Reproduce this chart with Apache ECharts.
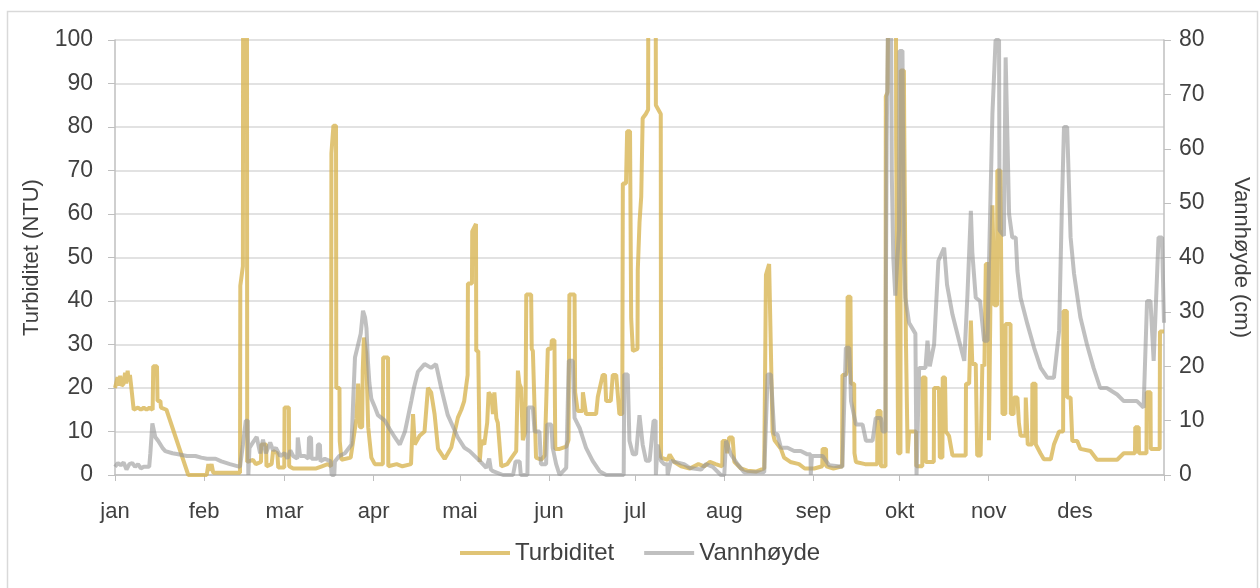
<!DOCTYPE html>
<html style="height: 100%">
<head>
<meta charset="utf-8">
<title>Turbiditet og vannhøyde</title>
<script src="https://cdn.jsdelivr.net/npm/echarts@6/dist/echarts.min.js"></script>
</head>
<body style="height: 100%; margin: 0; background: #fff">
<div id="main" style="width: 1260px; height: 588px"></div>
<script type="text/javascript">
// month labels and the day-of-year each month starts on
var months = ['jan', 'feb', 'mar', 'apr', 'mai', 'jun', 'jul', 'aug', 'sep', 'okt', 'nov', 'des'];
var monthStart = [0, 31, 59, 90, 120, 151, 181, 212, 243, 273, 304, 334];

// turbiditet (NTU), [day of year, value]
var turbiditet = [[0,20],[0.6,20],[0.9,22.5],[1.3,20.5],[1.8,22.8],[2.3,20.5],[3,21],[3.5,23.5],[3.9,21],[4.4,24],[4.8,21.5],[5.2,23],[5.7,20],[6.3,20],[6.5,15],[8,15.5],[9,15],[10,15.5],[11,15],[12,15.5],[13.1,15],[13.3,25],[14.6,25],[14.8,17],[15.8,17],[16,15.5],[17.9,15],[25.5,0],[31.9,0],[32.5,2.5],[33,1],[33.6,2.5],[34.2,0.5],[43.5,0.5],[43.6,43.5],[44.5,48],[44.6,130],[45.9,130],[46.0,3],[48,3.5],[49,2.5],[50.8,3],[50.9,7],[52.6,7],[52.7,2],[54.5,2.5],[55,5.5],[56.5,5],[56.8,1.7],[58.9,1.7],[59.0,15.5],[60.5,15.5],[60.6,2],[62,1.5],[66,1.5],[70,1.5],[72,2],[74,2.5],[75.2,2],[75.3,74],[75.9,74],[76,80.3],[76.9,80.3],[77,20],[78.1,20],[78.2,7.8],[78.8,3.5],[82,4],[82.9,8],[84,13],[84.6,21],[85.1,15],[85.2,11],[86,11],[86.2,24],[86.6,31.6],[87.4,28],[87.5,25.5],[88.1,11],[89.2,4],[90.4,2.5],[93.2,2.5],[93.3,27],[95,27],[95.1,2],[98,2.5],[100,2],[103,2.5],[103.7,14],[104.3,7],[106,9],[107.7,10],[108.9,20],[110,19],[111.2,14],[112.4,6],[114.7,3.7],[117,6.3],[119.3,13.2],[120.5,15],[121.5,17],[122.7,23],[122.8,44],[124.2,44],[124.3,56],[125.6,57.7],[125.7,28.5],[126.4,28.5],[126.9,3],[127.5,8],[128.5,7],[129.5,12],[130,19],[131,18],[131.5,14],[132,19],[132.7,13],[133.2,12],[134.4,2],[135,1.7],[136.5,2.5],[138,4],[139.6,5.5],[140.2,24],[140.7,21],[141.3,20],[141.9,8],[142.8,10],[143.1,41.5],[144.8,41.5],[145,29],[145.4,28.5],[146.5,4],[148.3,3.5],[149.5,4.5],[150.6,29],[151.8,29],[152,31],[152.9,31],[153.2,6],[154.7,6],[157,6.5],[157.8,8],[158.1,41.5],[159.9,41.5],[160.1,19],[160.5,19],[161,14.7],[162.7,14.7],[162.8,19],[163.9,14],[167.4,14],[168,18],[169.7,23],[170.5,23],[170.9,17],[172.5,17],[173.2,23],[174.4,23],[175.5,14],[176.5,14],[176.7,67],[177.8,67],[178.2,79],[179.2,79],[179.6,36],[180.2,28.5],[181.8,29],[181.9,47],[182.4,47],[182.5,58],[183,58],[183.1,64],[183.5,64],[183.6,82],[184.7,83],[185.5,84],[185.6,130],[188.1,130],[188.2,85],[189.9,83],[190,4],[192.3,3.5],[193,4.7],[194.6,3],[197,2],[200,1.5],[203,2.5],[205,2],[207,3],[209,2.5],[211.3,2],[211.4,7.8],[212.6,7.8],[213,5],[213.7,8.6],[214.9,8.6],[215.5,3],[217.8,1.5],[220,1],[223,0.8],[225.9,1.5],[226.5,46],[227.6,48.5],[228.2,48.5],[228.8,10],[229.5,8],[231.7,6],[232.8,4],[235,3],[238,2.5],[240,1.5],[243.3,1.5],[246.1,2],[246.2,6],[247.4,6],[247.5,2],[250,1.5],[253,2],[253.1,23],[254.3,23],[254.8,24],[254.9,41],[255.9,41],[256.1,21],[257.2,21],[257.3,5],[257.8,3],[261,2.5],[265.2,2.5],[265.3,14.7],[266.4,14.7],[266.5,2],[268.1,2],[268.2,87],[268.8,88],[269.3,130],[271.7,130],[271.8,77],[272.3,77],[272.5,5],[273.3,5],[273.4,93],[274.5,93],[274.6,81],[275.1,81],[275.2,31],[275.8,5],[276.3,10],[278.7,10],[278.8,2],[280.9,2],[281,22.4],[282,22.4],[282.1,3],[284.9,3],[285,20],[286.7,20],[287,4],[287.9,4],[288,22.4],[288.8,22.4],[289.1,10],[290.2,9],[291.4,4.5],[296,4.5],[296.1,21],[297.2,21],[297.8,35.5],[298.2,35.5],[298.3,25.5],[299.5,25.5],[300,4.5],[301.2,4.5],[301.8,25.5],[302.5,25],[303,48.5],[304,48.5],[304.1,8],[304.6,8],[304.7,46],[305.2,46],[305.3,62],[305.9,62],[306,39],[306.9,39],[307,70],[308.1,70],[308.2,60],[308.7,60],[308.8,14],[309.8,14],[309.9,34.7],[311.6,34.7],[311.7,14],[312.7,14],[312.8,17.8],[314,17.8],[314.5,12],[315.1,9],[316.8,9],[316.9,17.8],[317.5,17.8],[317.6,7],[319.1,7],[319.2,21],[320.3,21],[320.4,7],[322,5],[323.2,3.6],[325.6,3.6],[326.7,7],[328.5,10],[329.9,10],[330,37.7],[331.2,37.7],[331.3,17.8],[332.5,17.8],[333.1,7.8],[334.8,7.8],[335.9,6],[339.4,5.5],[341.7,3.5],[348.7,3.5],[351,5],[354.9,5],[355,11],[356.2,11],[356.3,5],[358.9,5],[359,19],[360.3,19],[360.4,6],[363.5,6],[363.6,33],[365,33]];

// vannhøyde (cm), [day of year, value]
var vannhoyde = [[0,1.5],[1,2.2],[2,1.8],[3,2.3],[4,1],[5,2],[6,2.2],[7,1.5],[8,2],[9,1.2],[10,1.5],[11.9,1.5],[12.3,4],[13,9.5],[14,7],[15,6.3],[16.5,5],[17.5,4.4],[20,4],[22,3.8],[25,3.5],[28,3.5],[30,3.2],[32,3],[35,3],[37,2.5],[40,2],[43.5,1.5],[44.5,5.5],[45.5,10],[46.2,10],[46.4,0],[46.8,5],[48,6],[49.3,7],[50.5,4],[51.5,6.5],[52.5,4],[54,6],[55,4.5],[56,5],[57.5,3.5],[59,4],[60,3],[61,4.5],[62,3.5],[63.4,3],[63.6,6.9],[64.2,6.9],[64.4,3.5],[66,3.5],[67.3,3],[67.5,6.9],[68.2,6.9],[68.4,3],[70.4,3],[70.6,5.6],[71.3,5.6],[71.5,2.5],[73,3],[75,2.5],[75.4,0],[76.3,0],[76.5,2.5],[78,3.5],[80,4],[82.3,5.6],[82.9,14],[83.5,21.6],[84.6,24],[85.5,26],[86.3,30.2],[87,29],[87.5,27],[88,21],[88.5,17],[89.2,14],[90.4,12.5],[91.5,11],[93.9,10],[95.5,8.5],[97.4,6.9],[99.1,5.6],[100.9,8],[103.1,13.6],[104,16],[105.4,19],[107.7,20.4],[110,19.7],[111.7,20.4],[113.5,16],[115.8,11],[119.3,6.9],[121.6,5],[123.4,4.4],[126.9,2.6],[129.2,1.3],[130.2,3],[130.8,1],[131.5,0.7],[135,0],[138.5,0],[139.4,2.5],[140.8,2.5],[141.2,0],[143.5,0],[143.8,12.4],[145.4,12.4],[146,8],[147.7,8],[148.2,2],[150,2],[150.4,9.3],[151.8,9.3],[152.3,5],[153.5,2],[154.7,0],[157,1.3],[157.9,21],[159.3,21],[159.9,10.5],[160.5,10.5],[161.7,8.6],[163.9,5],[166.2,2.6],[168.6,0.7],[170.9,0],[177,0],[177.2,18.5],[178.4,18.5],[179,6.3],[180.2,3.8],[181.3,3.8],[182,8],[182.5,11],[183.1,11],[183.6,5.6],[184.8,2.6],[186,2.6],[187.4,10],[188.1,10],[188.2,0],[188.8,5.6],[190,2.6],[191.1,2],[192.2,2],[192.3,0],[193.4,2.6],[198,2],[200,1.3],[203.9,1],[205.6,2],[208,1.5],[210.8,0],[212,0],[212.6,6.3],[214.3,3.8],[216.6,2],[218.9,0.5],[225.9,0.5],[227.1,18.5],[228.2,18.5],[229.4,7.5],[230.5,7.5],[231.7,5],[234,5],[236.3,4.4],[238.6,4.4],[240.9,3.8],[242,3.8],[242.1,0],[242.5,3.5],[246.2,3.5],[247.4,2.6],[248.5,1.8],[253.1,1.5],[254.3,23.4],[255.5,23.4],[256.1,13.6],[257.8,9.3],[260.1,9.3],[261.3,6.3],[263.6,6.3],[264.7,10.5],[266.5,10.5],[267.1,8],[268.1,8],[268.2,30],[268.5,61],[268.9,61],[269,85],[270,85],[270.3,55],[270.8,40],[271.5,33],[272.8,45],[273,78],[274,78],[274.5,40],[275,32.6],[276.3,28],[278.5,26],[278.9,0],[279.3,0],[279.8,19.7],[282,19.7],[282.7,24.7],[283.5,20],[285,24],[286.5,39.4],[288.5,41.8],[289.5,35],[291.4,29.5],[293.7,24.7],[295.5,21],[296.6,33],[297.8,48.6],[298.3,41],[299.5,32.6],[301,32],[302.4,24.7],[303.6,24.7],[304.1,38.8],[305.3,66.4],[305.9,66.4],[306.4,80],[307.6,80],[307.8,45],[309.3,44],[309.9,76.8],[310.5,76.8],[311.1,48],[312.2,43.7],[313.4,43.7],[314,37.5],[315.1,32.6],[317.5,27.7],[319.8,23.4],[322.1,19.7],[324.4,17.9],[326.7,17.9],[328.5,26.5],[329.5,50],[330.2,64],[331.3,64],[332.5,43.7],[333.7,37],[335.9,29],[338.2,24],[340.5,19.7],[342.8,16],[345.1,16],[348.7,14.8],[351,13.6],[355.6,13.6],[357.9,12.4],[359.1,32],[360.3,32],[361.4,21],[363.1,43.7],[364.3,43.7],[365,28]];

var font = '"Liberation Sans", Arial, sans-serif';
var txt = '#404040';
var myChart = echarts.init(document.getElementById('main'));

var option = {
	backgroundColor: '#ffffff',
	animation: false,
	graphic: [{
		type: 'rect',
		shape: { x: 7.5, y: 11.5, width: 1250, height: 600 },
		style: { fill: 'none', stroke: '#d9d9d9', lineWidth: 1.5 }
	}],
	grid: { left: 115, right: 95, top: 40, bottom: 113 },
	legend: {
		left: 455,
		top: 536,
		itemWidth: 50,
		itemHeight: 4,
		itemGap: 30,
		icon: 'rect',
		textStyle: { fontFamily: font, fontSize: 24, color: txt },
		data: ['Turbiditet', 'Vannhøyde']
	},
	xAxis: {
		type: 'value',
		min: 0,
		max: 365,
		splitLine: { show: false },
		axisLine: { lineStyle: { color: '#bfbfbf', width: 1.5 } },
		axisTick: { show: true, length: 6, customValues: monthStart.concat([365]), lineStyle: { color: '#bfbfbf' } },
		axisLabel: {
			customValues: monthStart,
			margin: 26,
			fontFamily: font, fontSize: 22, color: txt,
			formatter: function (v) { return months[monthStart.indexOf(v)] || ''; }
		}
	},
	yAxis: [{
		type: 'value',
		min: 0, max: 100, interval: 10,
		name: 'Turbiditet (NTU)',
		nameLocation: 'middle',
		nameGap: 72,
		nameTextStyle: { fontFamily: font, fontSize: 22, color: txt },
		axisLine: { show: true, lineStyle: { color: '#bfbfbf', width: 1.5 } },
		axisTick: { show: true, length: 7, lineStyle: { color: '#bfbfbf' } },
		splitLine: { lineStyle: { color: '#d9d9d9', width: 1.5 } },
		axisLabel: { margin: 22, fontFamily: font, fontSize: 23, color: txt }
	}, {
		type: 'value',
		min: 0, max: 80, interval: 10,
		name: 'Vannhøyde (cm)',
		nameLocation: 'middle',
		nameGap: 66,
		nameRotate: -90,
		nameTextStyle: { fontFamily: font, fontSize: 22, color: txt },
		axisLine: { show: true, lineStyle: { color: '#bfbfbf', width: 1.5 } },
		axisTick: { show: true, length: 7, lineStyle: { color: '#bfbfbf' } },
		splitLine: { show: false },
		axisLabel: { margin: 15, fontFamily: font, fontSize: 23, color: txt }
	}],
	series: [{
		name: 'Turbiditet',
		type: 'line',
		yAxisIndex: 0,
		data: turbiditet,
		showSymbol: false,
		symbol: 'none',
		clip: true,
		color: 'rgba(215,180,80,0.78)',
		lineStyle: { width: 4, color: 'rgba(215,180,80,0.78)' }
	}, {
		name: 'Vannhøyde',
		type: 'line',
		yAxisIndex: 1,
		data: vannhoyde,
		showSymbol: false,
		symbol: 'none',
		clip: true,
		color: 'rgba(150,150,150,0.6)',
		lineStyle: { width: 4, color: 'rgba(150,150,150,0.6)' }
	}]
};
myChart.setOption(option);
</script>
</body>
</html>
